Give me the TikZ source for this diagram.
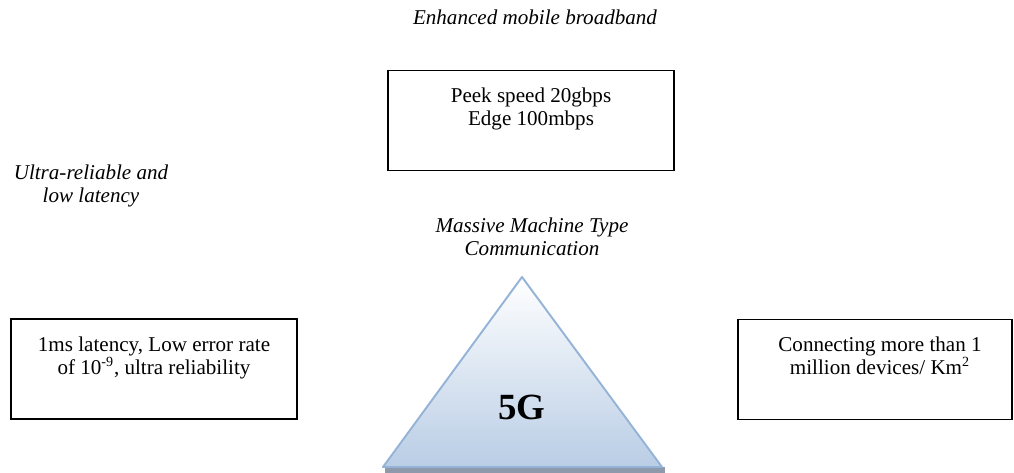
\documentclass[tikz,border=0pt]{standalone}
\usepackage{fontspec}
\setmainfont{Liberation Serif}
\usetikzlibrary{positioning, shapes.geometric}

\definecolor{triedge}{RGB}{149,179,215}
\definecolor{trifill}{RGB}{185,205,229}
\definecolor{trishadow}{RGB}{142,154,171}

\tikzset{
  box/.style={draw, line width=0.8pt, minimum width=286*0.02cm, minimum height=100*0.02cm, inner sep=0pt},
  boxtext/.style={align=center, font=\fontsize{12}{13}\selectfont, inner sep=0pt},
  heading/.style={align=center, font=\fontsize{12}{13}\selectfont\itshape, inner sep=0pt}
}

\begin{document}
\begin{tikzpicture}[x=0.02cm, y=-0.02cm]
  \useasboundingbox (0,0) rectangle (1014,473);

  % boxes
  \node[box] (speed) at (531,120.5) {};
  \node[box] (latency) at (154,369) {};
  \node[box, minimum width=274*0.02cm] (devices) at (875,369.5) {};
  \node[boxtext, below=18*0.02cm of speed.north] (speedtxt) {Peek speed 20gbps\\Edge 100mbps};
  \node[boxtext, below=18*0.02cm of latency.north] (latencytxt) {1ms latency, Low error rate\\of 10\textsuperscript{-9}, ultra reliability};
  \node[boxtext, below=18*0.02cm of devices.north, xshift=5*0.02cm] (devicestxt) {Connecting more than 1\\million devices/ Km\textsuperscript{2}};

  % headings
  \node[heading] (embb) at (535,17) {Enhanced mobile broadband};
  \node[heading] (urllc) at (91,186) {Ultra-reliable and\\low latency};
  \node[heading] (mmtc) at (532,237) {Massive Machine Type\\Communication};

  % triangle
  \fill[trishadow] (385,467) rectangle (665,473);
  \coordinate (apex) at (522,277);
  \coordinate (left) at (383,467);
  \coordinate (right) at (662,467);
  \shade[top color=white, bottom color=trifill, draw=triedge, line width=1.1pt, line join=round]
    (apex) -- (right) -- (left) -- cycle;
  \node[font=\fontsize{21}{24}\selectfont\bfseries] (fiveg) at (522,407) {5G};
\end{tikzpicture}
\end{document}
